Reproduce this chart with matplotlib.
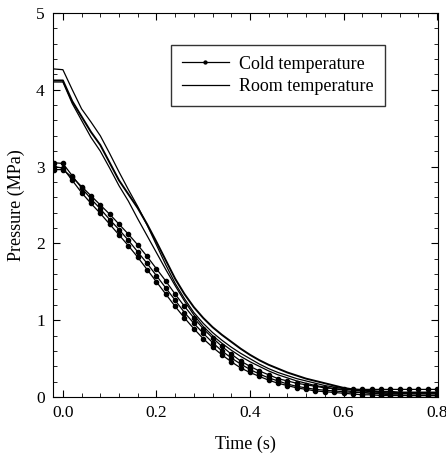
import numpy as np
import matplotlib
matplotlib.use("Agg")
import matplotlib.pyplot as plt
from matplotlib.ticker import MultipleLocator

plt.rcParams['font.family'] = ['Liberation Serif', 'DejaVu Serif']

# time base (s)
time = [-0.02, 0.00, 0.02, 0.04, 0.06, 0.08, 0.10, 0.12, 0.14, 0.16,
        0.18, 0.20, 0.22, 0.24, 0.26, 0.28, 0.30, 0.32, 0.34, 0.36,
        0.38, 0.40, 0.42, 0.44, 0.46, 0.48, 0.50, 0.52, 0.54, 0.56,
        0.58, 0.60, 0.62, 0.64, 0.66, 0.68, 0.70, 0.72, 0.74, 0.76,
        0.78, 0.80]

# cold temperature runs (MPa)
cold_a = [3.05, 3.04, 2.88, 2.72, 2.58, 2.45, 2.31, 2.18, 2.04, 1.89,
          1.74, 1.58, 1.42, 1.26, 1.10, 0.96, 0.83, 0.71, 0.60, 0.51,
          0.43, 0.36, 0.30, 0.25, 0.21, 0.17, 0.14, 0.12, 0.10, 0.09,
          0.08, 0.07, 0.06, 0.06, 0.05, 0.05, 0.05, 0.05, 0.05, 0.05,
          0.05, 0.05]
cold_b = [2.96, 2.96, 2.86, 2.74, 2.62, 2.50, 2.38, 2.25, 2.12, 1.98,
          1.83, 1.67, 1.51, 1.34, 1.18, 1.03, 0.89, 0.77, 0.66, 0.56,
          0.47, 0.40, 0.34, 0.29, 0.24, 0.21, 0.18, 0.16, 0.14, 0.12,
          0.11, 0.10, 0.10, 0.10, 0.10, 0.10, 0.10, 0.10, 0.10, 0.10,
          0.10, 0.10]
cold_c = [3.00, 2.98, 2.82, 2.66, 2.52, 2.39, 2.25, 2.11, 1.97, 1.82,
          1.66, 1.50, 1.34, 1.18, 1.03, 0.89, 0.76, 0.65, 0.55, 0.46,
          0.38, 0.32, 0.27, 0.22, 0.18, 0.15, 0.12, 0.10, 0.08, 0.07,
          0.06, 0.05, 0.04, 0.03, 0.03, 0.02, 0.02, 0.02, 0.02, 0.02,
          0.02, 0.02]

# room temperature runs (MPa)
room_a = [4.27, 4.26, 4.00, 3.75, 3.58, 3.40, 3.17, 2.93, 2.70, 2.48,
          2.24, 1.98, 1.72, 1.48, 1.28, 1.10, 0.96, 0.84, 0.74, 0.65,
          0.57, 0.50, 0.43, 0.37, 0.32, 0.28, 0.24, 0.21, 0.18, 0.15,
          0.13, 0.11, 0.09, 0.08, 0.07, 0.06, 0.05, 0.05, 0.04, 0.04,
          0.04, 0.04]
room_b = [4.12, 4.12, 3.85, 3.65, 3.45, 3.28, 3.05, 2.82, 2.64, 2.46,
          2.25, 2.02, 1.78, 1.54, 1.34, 1.17, 1.03, 0.91, 0.81, 0.72,
          0.63, 0.55, 0.48, 0.42, 0.37, 0.32, 0.28, 0.24, 0.21, 0.18,
          0.15, 0.12, 0.10, 0.09, 0.08, 0.07, 0.07, 0.06, 0.06, 0.06,
          0.06, 0.06]
room_c = [4.10, 4.10, 3.82, 3.60, 3.38, 3.20, 2.98, 2.75, 2.55, 2.32,
          2.10, 1.88, 1.66, 1.45, 1.25, 1.07, 0.92, 0.80, 0.70, 0.61,
          0.53, 0.46, 0.40, 0.34, 0.29, 0.25, 0.21, 0.18, 0.15, 0.13,
          0.11, 0.09, 0.07, 0.06, 0.05, 0.04, 0.03, 0.03, 0.02, 0.02,
          0.02, 0.02]

fig = plt.figure(figsize=(4.46, 4.58), dpi=100)
ax = fig.add_axes([0.119, 0.133, 0.863, 0.839])

# room temperature
for i, r in enumerate([room_a, room_b, room_c]):
    ax.plot(time, r, color='black', lw=0.9 if i != 1 else 1.4,
            label='Room temperature' if i == 0 else None)

# cold temperature
for i, c in enumerate([cold_a, cold_b, cold_c]):
    ax.plot(time, c, color='black', lw=0.9, marker='o', markersize=3,
            label='Cold temperature' if i == 0 else None)

ax.set_xlim(-0.021, 0.802)
ax.set_ylim(0, 5)
ax.xaxis.set_major_locator(MultipleLocator(0.2))
ax.xaxis.set_minor_locator(MultipleLocator(0.04))
ax.yaxis.set_major_locator(MultipleLocator(1))
ax.yaxis.set_minor_locator(MultipleLocator(0.2))
ax.xaxis.set_major_formatter(plt.FormatStrFormatter('%.1f'))
ax.tick_params(which='both', direction='in', top=True, right=True,
               labelsize=12.5, pad=6)
ax.tick_params(which='major', length=5)
ax.tick_params(which='minor', length=3)

ax.set_xlabel('Time (s)', fontsize=13, labelpad=10)
ax.set_ylabel('Pressure (MPa)', fontsize=13, labelpad=8)

h, l = ax.get_legend_handles_labels()
order = [1, 0]
leg = ax.legend([h[k] for k in order], [l[k] for k in order],
                loc='upper right', bbox_to_anchor=(0.862, 0.917),
                borderaxespad=0, fontsize=13, frameon=True, fancybox=False,
                markerscale=0.7, handlelength=2.6, borderpad=0.6,
                labelspacing=0.3, handletextpad=0.6,
                edgecolor='black', numpoints=1)
leg.get_frame().set_linewidth(1.0)

fig.savefig('out.png', dpi=100)
